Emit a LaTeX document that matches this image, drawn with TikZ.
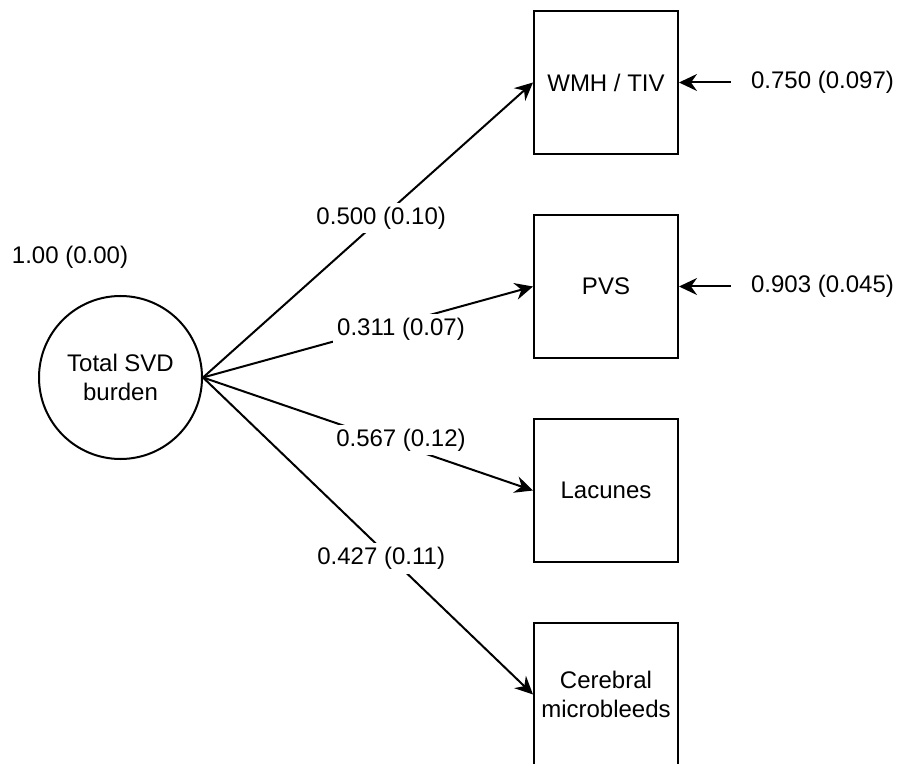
\documentclass[tikz,border=0pt]{standalone}
\usepackage{fontspec}
\setmainfont{Liberation Sans}
\usepackage{tikz}
\usetikzlibrary{arrows.meta}
\usetikzlibrary{positioning}
\tikzset{link/.style = {line width = 1pt, -{Stealth[length = 9pt, width = 8.5pt, inset = 3pt]}}}
\tikzset{lat/.style = {draw, line width = 1pt, circle, inner sep = 0, minimum size = 81.5pt, align = center}}
\tikzset{obs/.style = {draw, line width = 1pt, rectangle, minimum width = 72pt, minimum height = 71.5pt, align = center}}
\tikzset{coef/.style = {fill = white, inner sep = 2pt}}
\tikzset{err/.style = {inner xsep = 10pt, inner ysep = 2pt}}

\begin{document}
\begin{tikzpicture}[x = 0.5pt, y = -0.5pt, font = \fontsize{12}{14.5}\selectfont]
    \useasboundingbox (0, 0) rectangle (899, 764);

    \node [lat] (svd) at (120.5, 377.5) {Total SVD\\burden};
    \node (svdvar) at (70, 257) {1.00 (0.00)};

    \node [obs] (wmh) at (606, 82.5) {WMH / TIV};
    \node [obs] (pvs) at (606, 286.5) {PVS};
    \node [obs] (lac) at (606, 490.5) {Lacunes};
    \node [obs] (cmb) at (606, 694.5) {Cerebral\\microbleeds};

    \node [err] (ewmh) at (822.5, 82.5) {0.750 (0.097)};
    \node [err] (epvs) at (822.5, 286.5) {0.903 (0.045)};

    \draw [link] (svd.east) -- node [coef, pos = 0.54] {0.500 (0.10)} (wmh.west);
    \draw [link] (svd.east) -- node [coef, pos = 0.6, yshift = -3pt] {0.311 (0.07)} (pvs.west);
    \draw [link] (svd.east) -- node [coef, pos = 0.6, yshift = 2.5pt] {0.567 (0.12)} (lac.west);
    \draw [link] (svd.east) -- node [coef, pos = 0.54, yshift = -5pt] {0.427 (0.11)} (cmb.west);

    \draw [link] (ewmh.west) -- (wmh.east);
    \draw [link] (epvs.west) -- (pvs.east);
  \end{tikzpicture}
\end{document}
